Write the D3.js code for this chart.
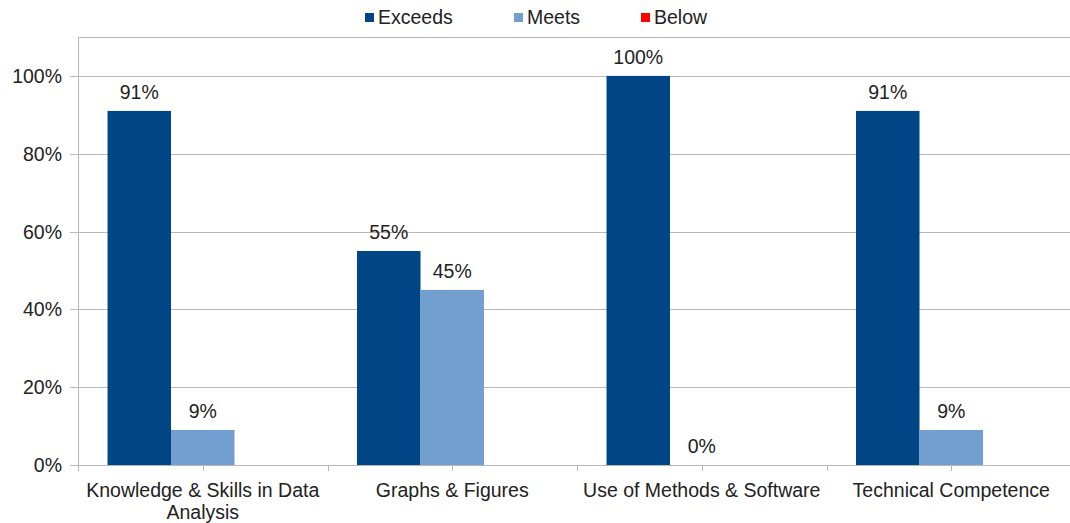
<!DOCTYPE html>
<html>
<head>
<meta charset="utf-8">
<script src="https://cdn.jsdelivr.net/npm/d3@7"></script>
<style>
  body { margin: 0; background: #fff; }
  text { font-family: "Liberation Sans", Arial, sans-serif; fill: #222; }
</style>
</head>
<body>
<div id="chart"></div>
<script>
// Data
const categories = ["Knowledge & Skills in Data Analysis", "Graphs & Figures", "Use of Methods & Software", "Technical Competence"];
const series = ["Exceeds", "Meets", "Below"];
const exceeds = [0.91, 0.55, 1.00, 0.91];
const meets = [0.09, 0.45, 0.00, 0.09];
const below = [0, 0, 0, 0];
const yTicks = [0, 0.2, 0.4, 0.6, 0.8, 1.0];
const colors = ["#004586", "#729fcf", "#ff0000"];

const width = 1070;
const height = 523;
const margin = { top: 37, right: -6, bottom: 58, left: 78 };
const fontSize = 19.5;

const svg = d3.select("#chart")
  .append("svg")
  .attr("width", width)
  .attr("height", height);

const x0 = d3.scaleBand()
  .domain(categories)
  .range([margin.left, width - margin.right])
  .paddingInner(0)
  .paddingOuter(0);

const x1 = d3.scaleBand()
  .domain(series)
  .range([0, x0.bandwidth()])
  .paddingInner(0)
  .paddingOuter(0.465);

const y = d3.scaleLinear()
  .domain([0, 1.1])
  .range([height - margin.bottom, margin.top]);

const fmt = d3.format(".0%");
const grid = "#b8b8b8";

// Gridlines + y ticks
svg.append("g")
  .selectAll("line")
  .data(yTicks.concat([1.1]))
  .enter()
  .append("line")
  .attr("x1", d => d === 1.1 ? margin.left : margin.left - 8)
  .attr("x2", width)
  .attr("y1", d => Math.round(y(d)) + 0.5)
  .attr("y2", d => Math.round(y(d)) + 0.5)
  .attr("stroke", grid);

// y axis line
svg.append("line")
  .attr("x1", margin.left + 0.5)
  .attr("x2", margin.left + 0.5)
  .attr("y1", y(1.1))
  .attr("y2", y(0) + 6)
  .attr("stroke", grid);

// y labels
svg.append("g")
  .selectAll("text")
  .data(yTicks)
  .enter()
  .append("text")
  .text(d => fmt(d))
  .attr("x", margin.left - 16)
  .attr("y", d => y(d) + 7)
  .attr("text-anchor", "end")
  .attr("font-size", fontSize);

// x ticks at category edges and centres
const xTickPos = [];
categories.forEach(c => {
  xTickPos.push(x0(c));
  xTickPos.push(x0(c) + x0.bandwidth() / 2);
});
svg.append("g")
  .selectAll("line")
  .data(xTickPos)
  .enter()
  .append("line")
  .attr("x1", d => Math.round(d) + 0.5)
  .attr("x2", d => Math.round(d) + 0.5)
  .attr("y1", y(0))
  .attr("y2", y(0) + 6)
  .attr("stroke", grid);

// Bars
const rows = categories.map((c, i) => ({
  cat: c,
  vals: [exceeds[i], meets[i], below[i]]
}));

const groups = svg.append("g")
  .selectAll("g")
  .data(rows)
  .enter()
  .append("g")
  .attr("transform", d => `translate(${x0(d.cat)},0)`);

groups.selectAll("rect")
  .data(d => d.vals.map((v, j) => ({ s: series[j], v: v, j: j })))
  .enter()
  .append("rect")
  .attr("x", d => x1(d.s))
  .attr("width", x1.bandwidth())
  .attr("y", d => y(d.v))
  .attr("height", d => y(0) - y(d.v))
  .attr("fill", d => colors[d.j]);

// Value labels (Exceeds and Meets only)
groups.selectAll("text")
  .data(d => d.vals.slice(0, 2).map((v, j) => ({ s: series[j], v: v })))
  .enter()
  .append("text")
  .text(d => fmt(d.v))
  .attr("x", d => x1(d.s) + x1.bandwidth() / 2)
  .attr("y", d => y(d.v) - 12)
  .attr("text-anchor", "middle")
  .attr("font-size", fontSize);

// Category labels (wrapped)
function wrapLines(label) {
  if (label.length > 28) {
    const idx = label.lastIndexOf(" ");
    return [label.slice(0, idx), label.slice(idx + 1)];
  }
  return [label];
}
svg.append("g")
  .selectAll("text")
  .data(categories)
  .enter()
  .append("text")
  .attr("x", d => x0(d) + x0.bandwidth() / 2)
  .attr("y", y(0) + 32)
  .attr("text-anchor", "middle")
  .attr("font-size", fontSize)
  .each(function(d) {
    const t = d3.select(this);
    wrapLines(d).forEach((line, k) => {
      t.append("tspan")
        .attr("x", x0(d) + x0.bandwidth() / 2)
        .attr("dy", k === 0 ? 0 : 22)
        .text(line);
    });
  });

// Legend
const legendX = [365, 514, 641];
const legend = svg.append("g")
  .selectAll("g")
  .data(series)
  .enter()
  .append("g")
  .attr("transform", (d, i) => `translate(${legendX[i]},13)`);

legend.append("rect")
  .attr("width", 9)
  .attr("height", 9)
  .attr("fill", (d, i) => colors[i]);

legend.append("text")
  .text(d => d)
  .attr("x", 13)
  .attr("y", 11)
  .attr("font-size", fontSize);
</script>
</body>
</html>
